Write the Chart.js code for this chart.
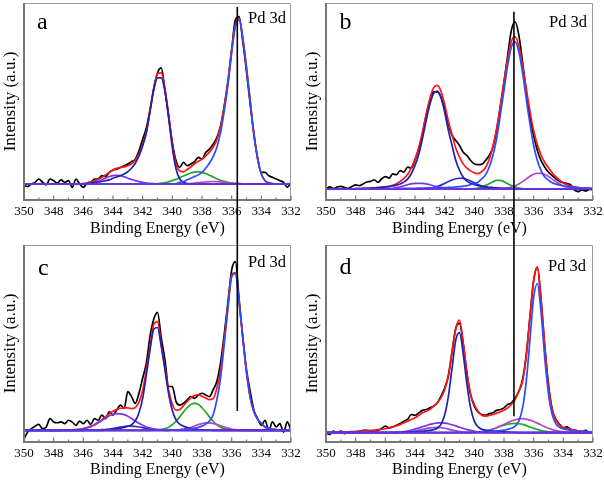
<!DOCTYPE html>
<html>
<head>
<meta charset="utf-8">
<script src="https://cdn.jsdelivr.net/npm/chart.js@4.4.1/dist/chart.umd.min.js"></script>
<style>
html,body{margin:0;padding:0;background:#ffffff;}
#grid{position:relative;width:604px;height:482px;overflow:hidden;}
.cell{position:absolute;width:302px;height:241px;}
canvas{display:block;}
</style>
</head>
<body>
<div id="grid">
  <div class="cell" style="left:0;top:0"><canvas id="pa" width="302" height="241"></canvas></div>
  <div class="cell" style="left:302px;top:0"><canvas id="pb" width="302" height="241"></canvas></div>
  <div class="cell" style="left:0;top:241px"><canvas id="pc" width="302" height="241"></canvas></div>
  <div class="cell" style="left:302px;top:241px"><canvas id="pd" width="302" height="241"></canvas></div>
</div>
<script>
// ---------- shared axis data ----------
const energy = [
350,349.75,349.5,349.25,349,348.75,348.5,348.25,
348,347.75,347.5,347.25,347,346.75,346.5,346.25,
346,345.75,345.5,345.25,345,344.75,344.5,344.25,
344,343.75,343.5,343.25,343,342.75,342.5,342.25,
342,341.75,341.5,341.25,341,340.75,340.5,340.25,
340,339.75,339.5,339.25,339,338.75,338.5,338.25,
338,337.75,337.5,337.25,337,336.75,336.5,336.25,
336,335.75,335.5,335.25,335,334.75,334.5,334.25,
334,333.75,333.5,333.25,333,332.75,332.5,332.25,
332];
const tickValues = [350,348,346,344,342,340,338,336,334,332];
const minorTickValues = [349,347,345,343,341,339,337,335,333];
const panelLetters = ['a','b','c','d'];
const peakLabel = 'Pd 3d';
const xTitle = 'Binding Energy (eV)';
const yTitle = 'Intensity (a.u.)';
const baselineLevel = 0;
const markerEnergyAC = 335.62;
const markerEnergyBD = 337.33;

// ---------- panel a ----------
const aRaw = [
-1,-1.5,0,1,3,1,-0.5,3,
2,0.5,2.5,1,2,-2,3,0,
-2,0.5,1,3,3,5,4.5,7,
8.5,9,10,11,12,13.5,15,20,
27,34,45,58,67,70,57,41,
25,14,10,13,11,12,13.5,16,
15,19,21,24,28,35,47,62,
81,99,101,86,68,48,30,16,
7,7,5,4,3,2,1,-2,
1];
const aFit = [
0,0,0,0,0,0,0,0,
0,0,0,0,0,0,0,0,
0.2,0.6,1.1,1.9,2.7,4,5.5,7,
8.5,9.4,10,10.3,11,12.2,14.5,18.4,
24,31.6,44.4,57.2,66.5,67,57.5,41.5,
24,12.1,7.8,7.3,8.7,10.4,12.2,13.7,
15,17,19.2,22.2,26.6,34.5,46.6,61.7,
81,96,100,88.2,70,50,30,15,
6,2,0.7,0.2,0,0,0,0,
0];
const aPd52 = [
0,0,0,0,0,0,0,0,
0,0,0,0,0,0,0,0,
0,0,0,0,0,0,0,0,
0,0,0,0,0,0,0,0,
0,0,0,0,0,0,0,0,
0,0.3,1,1.5,2.5,3.5,4.5,5.5,
7,9.5,12.5,16.5,22,31,44,60,
79,95,99,88,70,50,30,15,
6,2,0.7,0.2,0,0,0,0,
0];
const aPd32 = [
0,0,0,0,0,0,0,0,
0,0,0,0,0,0,0,0,
0.2,0.4,0.6,0.9,1.2,1.5,2,2.5,
3.5,4.2,5,6,7.5,9.5,12.5,17,
23,31,44,57,64,64,56,40,
22,9,3,1,0.3,0,0,0,
0,0,0,0,0,0,0,0,
0,0,0,0,0,0,0,0,
0,0,0,0,0,0,0,0,
0];
const aSat343 = [
0,0,0,0,0,0,0,0,
0,0,0,0,0,0,0,0,
0,0.2,0.5,1,1.5,2.5,3.5,4.5,
5,5.2,5,4.3,3.5,2.7,2,1.4,
1,0.6,0.4,0.2,0,0,0,0,
0,0,0,0,0,0,0,0,
0,0,0,0,0,0,0,0,
0,0,0,0,0,0,0,0,
0,0,0,0,0,0,0,0,
0];
const aSat338 = [
0,0,0,0,0,0,0,0,
0,0,0,0,0,0,0,0,
0,0,0,0,0,0,0,0,
0,0,0,0,0,0,0,0,
0,0,0,0,0.2,0.5,0.8,1.3,
2,2.8,3.8,4.8,5.8,6.6,7.2,7.4,
7,6.3,5.3,4.2,3.2,2.3,1.6,1,
0.6,0.4,0.2,0.1,0,0,0,0,
0,0,0,0,0,0,0,0,
0];
const aSat337 = [
0,0,0,0,0,0,0,0,
0,0,0,0,0,0,0,0,
0,0,0,0,0,0,0,0,
0,0,0,0,0,0,0,0,
0,0,0,0,0,0,0,0,
0,0,0,0,0.1,0.3,0.5,0.8,
1,1.2,1.4,1.5,1.4,1.2,1,0.7,
0.5,0.3,0.2,0.1,0,0,0,0,
0,0,0,0,0,0,0,0,
0];

// ---------- panel b ----------
const bRaw = [
0,1.2,0.3,1.2,1.6,0.8,0.4,1.5,
2.4,2,3,4.2,4.5,5.5,4,6,
7.4,6.5,9,8.5,11,10,13,12.5,
17.5,24,33,44,53,58,58,55,
48,39,32,29,26,22,20,17,
15,14.5,14.7,17,20,25,35,49,
64,80,95,100,92,76,58,43,
32,23,17,13,10,8,6,4.5,
3.8,3.2,2.4,-0.6,-1.6,-0.6,-1.2,-0.3,
-0.6];
const bFit = [
0,0,0,0,0,0,0,0,
0.2,0.25,0.3,0.4,0.5,0.65,0.8,1,
1.3,1.6,2.2,3.1,4.5,6.3,8.7,12.5,
17.7,24.5,33.9,44.5,54,60.4,61.9,58.4,
50.5,40.5,32.5,24.3,19,15,12.4,10.8,
9.6,9.2,10.4,12.7,17.6,25.4,35.9,49.7,
64,78,88.3,91.1,85.5,74.1,60.1,46.6,
34.8,26.4,20.3,15.8,12.7,9.6,7.2,5.3,
3.6,2.5,1.7,1.2,0.9,0.6,0.5,0.4,
0.3];
const bPd52 = [
0,0,0,0,0,0,0,0,
0,0,0,0,0,0,0,0,
0,0,0,0,0.2,0.3,0.3,0.4,
0.4,0.5,0.5,0.6,0.6,0.7,0.7,0.8,
0.8,0.9,1,1.2,1.4,1.7,2,2.6,
3.2,4.1,6,8.4,13,20,30,44,
59,74,85,88,82,69.5,54,39,
26,17,11,7.2,5.3,3.7,2.9,2.4,
1.8,1.5,1.2,1,0.8,0.6,0.5,0.4,
0.3];
const bPd32 = [
0,0,0,0,0,0,0,0,
0.2,0.25,0.3,0.4,0.5,0.65,0.8,1,
1.2,1.4,1.8,2.3,3,4.1,5.9,9.1,
14,20.6,30,40.7,50.5,57,58.5,54.5,
46,35,26,17,11.2,7,4.7,3.4,
2.5,2,1.6,1.3,1,0.85,0.7,0.55,
0.4,0.3,0.2,0.1,0,0,0,0,
0,0,0,0,0,0,0,0,
0,0,0,0,0,0,0,0,
0];
const bSat343 = [
0,0,0,0,0,0,0,0,
0,0,0,0,0,0,0,0,
0.1,0.2,0.4,0.8,1.3,1.9,2.5,3,
3.3,3.4,3.3,3,2.5,1.9,1.3,0.8,
0.4,0.2,0.1,0,0,0,0,0,
0,0,0,0,0,0,0,0,
0,0,0,0,0,0,0,0,
0,0,0,0,0,0,0,0,
0,0,0,0,0,0,0,0,
0];
const bSat341 = [
0,0,0,0,0,0,0,0,
0,0,0,0,0,0,0,0,
0,0,0,0,0,0,0,0,
0,0,0.1,0.2,0.4,0.8,1.4,2.3,
3.3,4.4,5.4,6.1,6.4,6.3,5.7,4.8,
3.7,2.6,1.7,1,0.5,0.25,0.1,0,
0,0,0,0,0,0,0,0,
0,0,0,0,0,0,0,0,
0,0,0,0,0,0,0,0,
0];
const bSat338 = [
0,0,0,0,0,0,0,0,
0,0,0,0,0,0,0,0,
0,0,0,0,0,0,0,0,
0,0,0,0,0,0,0,0,
0,0,0,0,0,0,0,0,
0.2,0.5,1.1,2,3.1,4.3,5.1,5.1,
4.3,3.1,2,1.1,0.5,0.2,0.1,0,
0,0,0,0,0,0,0,0,
0,0,0,0,0,0,0,0,
0];
const bSat336 = [
0,0,0,0,0,0,0,0,
0,0,0,0,0,0,0,0,
0,0,0,0,0,0,0,0,
0,0,0,0,0,0,0,0,
0,0,0,0,0,0,0,0,
0,0,0,0,0,0,0,0,
0.3,0.6,1.1,1.9,3,4.4,6,7.6,
8.8,9.4,9.3,8.6,7.4,5.9,4.3,2.9,
1.8,1,0.5,0.2,0.1,0,0,0,
0];

// ---------- panel c ----------
const cRaw = [
-5,-1,1,2.5,3.5,1,2,7,
5,4.5,5,4,6,5,3,5.5,
4,6,3.5,7,6,9,7,11,
9,12,15,13,23,20,16,22,
31,40,56,66,70,55,42,26,
26,17,15,16,18,20,19,21,
22,21,20,24,29,40,57,76,
95,100,78,55,36,23,12,7,
3,6,0,5,2,4,-1,5,
0];
const cFit = [
0,0,0,0,0,0,0,0,
0,0,0,0.1,0.2,0.3,0.4,0.6,
1.05,1.6,2.35,3.4,4.8,6.3,8.1,9.8,
11.3,12.4,13.1,13.3,13.3,12.9,13.5,16.7,
23.6,36.1,50.1,63,64.5,51,37.3,23.8,
15.5,12,12.4,14.6,17,19.4,20.7,21.1,
20.2,19.2,18.2,18.8,24.9,35.6,53.9,74.3,
92,93.5,76.2,55.1,34.5,19.5,11,6.5,
4.2,2,1.2,0.8,0.5,0.3,0.2,0.1,
0];
const cPd52 = [
0,0,0,0,0,0,0,0,
0,0,0,0,0,0,0,0,
0,0,0,0,0,0,0,0,
0,0,0,0,0,0,0,0,
0,0,0,0,0,0,0,0,
0.1,0.2,0.3,0.5,0.7,1,1.3,1.8,
2.5,3.7,5.6,9.3,18,31,51,72.5,
91,93,76,55,34.5,19.5,11,6.5,
4.2,2,1.2,0.8,0.5,0.3,0.2,0.1,
0];
const cPd32 = [
0,0,0,0,0,0,0,0,
0,0,0,0,0,0,0,0,
0.05,0.1,0.15,0.2,0.3,0.4,0.5,0.6,
0.8,1,1.3,1.7,2.4,3.4,5.6,10.5,
19,33,48,60,61,50,36,21.7,
11.8,6.2,3.7,2.5,1.7,1.2,0.8,0.5,
0.3,0.2,0.1,0,0,0,0,0,
0,0,0,0,0,0,0,0,
0,0,0,0,0,0,0,0,
0];
const cSat343 = [
0,0,0,0,0,0,0,0,
0,0,0,0.1,0.2,0.3,0.4,0.6,
1,1.5,2.2,3.2,4.5,5.9,7.3,8.6,
9.5,9.9,9.8,9.3,8.4,7,5.6,4.2,
3,2,1.4,0.9,0.6,0.4,0.3,0.2,
0.1,0,0,0,0,0,0,0,
0,0,0,0,0,0,0,0,
0,0,0,0,0,0,0,0,
0,0,0,0,0,0,0,0,
0];
const cSat342 = [
0,0,0,0,0,0,0,0,
0,0,0,0,0,0,0,0,
0,0,0,0,0,0,0.3,0.6,
1,1.5,2,2.3,2.5,2.5,2.3,2,
1.6,1.1,0.7,0.4,0.2,0.1,0,0,
0,0,0,0,0,0,0,0,
0,0,0,0,0,0,0,0,
0,0,0,0,0,0,0,0,
0,0,0,0,0,0,0,0,
0];
const cSat338 = [
0,0,0,0,0,0,0,0,
0,0,0,0,0,0,0,0,
0,0,0,0,0,0,0,0,
0,0,0,0,0,0,0,0,
0,0,0,0.1,0.2,0.5,1,1.9,
3.4,5.4,8,10.9,13.4,15.4,16,15.4,
13.4,10.9,8,5.4,3.4,1.9,1,0.5,
0.2,0.1,0,0,0,0,0,0,
0,0,0,0,0,0,0,0,
0];
const cSat337 = [
0,0,0,0,0,0,0,0,
0,0,0,0,0,0,0,0,
0,0,0,0,0,0,0,0,
0,0,0,0,0,0,0,0,
0,0,0,0,0,0,0,0,
0.1,0.2,0.4,0.7,1.2,1.8,2.6,3.4,
4,4.4,4.45,4.1,3.5,2.7,1.9,1.3,
0.8,0.4,0.2,0.1,0,0,0,0,
0,0,0,0,0,0,0,0,
0];

// ---------- panel d ----------
const dRaw = [
0,-1,1,0,1,-0.5,0.5,0,
0.5,1,1.5,1.5,1,1,1.5,2.5,
4,3,3.5,4.5,5.5,7,8,11,
10.5,12,13.5,14,15,16,18,22,
27,34,49,63,66,54,36,23,
16,12.5,11,10.5,11.5,12,13.5,14,
15,17,18,21,25,32,47,70,
92,100,80,52,29,14,8,5,
3,3.5,2,1.5,1,0.5,1.5,0,
0.5];
const dFit = [
0.2,0.2,0.3,0.3,0.4,0.5,0.6,0.7,
0.8,1,1.1,1.2,1.4,1.6,1.9,2.1,
2.4,2.9,3.4,4.2,5,6,7,8,
9,10.5,12,13,14,16,18,21,
26,35,49,63,68,54,36,23,
17,13,10.5,10,10.5,11,11.8,12.6,
13.5,15,17,20,25,31,46,70,
92,100,80,52,28,14,7.5,4.5,
3.2,2.5,2,1.6,1.2,1,0.8,0.6,
0.5];
const dPd52 = [
0,0,0,0,0,0,0,0,
0,0,0,0,0,0,0,0,
0,0,0,0,0,0,0,0,
0,0,0,0,0,0,0,0,
0,0,0,0,0,0,0,0.1,
0.2,0.3,0.4,0.5,0.7,0.8,1,1.3,
1.6,2,2.7,3.9,7,14.8,31,56,
81.7,90,72.5,45,23.3,10.9,5.4,3.2,
2.3,1.8,1.4,1.1,0.9,0.7,0.6,0.5,
0.4];
const dPd32 = [
0,0,0,0,0,0,0,0,
0,0,0,0,0,0,0,0,
0,0,0,0.1,0.2,0.3,0.4,0.5,
0.6,0.7,0.9,1.1,1.4,1.9,2.7,5,
10.7,22,39,56,60.4,47.6,29.3,15,
7,3.5,2.1,1.6,1.2,1,0.8,0.6,
0.5,0.4,0.3,0.2,0.1,0,0,0,
0,0,0,0,0,0,0,0,
0,0,0,0,0,0,0,0,
0];
const dSat342 = [
0,0,0,0,0,0,0,0,
0,0,0,0,0,0,0,0,
0,0.1,0.2,0.3,0.45,0.7,1.05,1.5,
2.2,2.8,3.6,4.3,5,5.5,5.9,6,
5.8,5.4,4.8,4.1,3.3,2.6,1.9,1.4,
0.9,0.6,0.4,0.25,0.15,0.1,0,0,
0,0,0,0,0,0,0,0,
0,0,0,0,0,0,0,0,
0,0,0,0,0,0,0,0,
0];
const dSat343 = [
0,0,0,0,0,0,0,0,
0,0,0,0,0,0,0,0,
0,0,0,0,0.1,0.2,0.4,0.65,
1,1.5,2,2.5,2.9,3.15,3.2,3,
2.7,2.2,1.6,1.1,0.7,0.4,0.2,0.1,
0,0,0,0,0,0,0,0,
0,0,0,0,0,0,0,0,
0,0,0,0,0,0,0,0,
0,0,0,0,0,0,0,0,
0];
const dSat337 = [
0,0,0,0,0,0,0,0,
0,0,0,0,0,0,0,0,
0,0,0,0,0,0,0,0,
0,0,0,0,0,0,0,0,
0,0,0,0,0,0,0.1,0.2,
0.3,0.5,0.7,1.05,1.6,2.2,3,3.8,
4.5,5.1,5.5,5.6,5.4,5,4.3,3.5,
2.6,2,1.3,0.95,0.6,0.4,0.25,0.15,
0.1,0,0,0,0,0,0,0,
0];
const dSat336 = [
0,0,0,0,0,0,0,0,
0,0,0,0,0,0,0,0,
0,0,0,0,0,0,0,0,
0,0,0,0,0,0,0,0,
0,0,0,0,0,0,0,0.1,
0.2,0.35,0.6,1,1.5,2.1,3,4,
5.1,6.1,7.1,7.8,8.4,8.5,8.2,7.6,
6.8,5.8,4.7,3.6,2.7,1.9,1.3,0.85,
0.55,0.3,0.2,0.1,0,0,0,0,
0];

// ---------- styling ----------
const FONT = '"Liberation Serif", "Times New Roman", serif';
const COL = {
  raw:'#000000', fit:'#ff1414', pd52:'#2b4cff', pd32:'#2020b4',
  violet:'#7a34e8', navy2:'#2a2ad0', green:'#1ea81e', magenta:'#b445cc',
  purple:'#9b45d8', base:'#6c30de'
};

function ds(label, values, color, order, width) {
  return {
    label,
    data: values.map((v, i) => ({x: energy[i], y: v})),
    borderColor: color, backgroundColor: color,
    borderWidth: width || 1.7, pointRadius: 0, pointHoverRadius: 0,
    cubicInterpolationMode: 'monotone', fill: false, order
  };
}
function baseDs() { return ds('Baseline', energy.map(() => baselineLevel), COL.base, 0, 1.7); }

const decor = {
  id: 'decor',
  afterDraw(chart, args, o) {
    const {ctx, chartArea: a, scales: {x, y}} = chart;
    ctx.save();
    // frame
    ctx.strokeStyle = '#9a9a9a'; ctx.lineWidth = 1;
    ctx.beginPath();
    ctx.moveTo(a.left, a.top + 0.5); ctx.lineTo(a.right - 0.5, a.top + 0.5); ctx.lineTo(a.right - 0.5, a.bottom);
    ctx.stroke();
    ctx.strokeStyle = '#767676'; ctx.lineWidth = 2;
    ctx.beginPath();
    ctx.moveTo(a.left, a.top); ctx.lineTo(a.left, a.bottom); ctx.lineTo(a.right, a.bottom);
    ctx.stroke();
    // inward ticks
    ctx.lineWidth = 1.2; ctx.strokeStyle = '#767676';
    tickValues.forEach(v => {
      const px = x.getPixelForValue(v);
      ctx.beginPath(); ctx.moveTo(px, a.bottom); ctx.lineTo(px, a.bottom - 4.5); ctx.stroke();
    });
    minorTickValues.forEach(v => {
      const px = x.getPixelForValue(v);
      ctx.beginPath(); ctx.moveTo(px, a.bottom); ctx.lineTo(px, a.bottom - 2.5); ctx.stroke();
    });
    // vertical reference line
    const mx = x.getPixelForValue(o.marker);
    const y1 = o.markerFrom !== null ? y.getPixelForValue(o.markerFrom) : 0;
    const y2 = o.markerTo !== null ? y.getPixelForValue(o.markerTo) : chart.height;
    ctx.strokeStyle = '#000'; ctx.lineWidth = 1.6;
    ctx.beginPath(); ctx.moveTo(mx, y1); ctx.lineTo(mx, y2); ctx.stroke();
    // texts
    ctx.fillStyle = '#000'; ctx.textBaseline = 'alphabetic';
    ctx.font = '24px ' + FONT; ctx.textAlign = 'left';
    ctx.fillText(o.letter, a.left + o.letterDx, a.top + o.letterDy);
    ctx.font = '16.5px ' + FONT; ctx.textAlign = 'right';
    ctx.fillText(peakLabel, a.right - o.labelDx, a.top + o.labelDy);
    ctx.restore();
  }
};

const panels = [
  {id:'pa', letter:panelLetters[0], top:3, xh:41, yMin:-9.66, yMax:109.2,
   marker:markerEnergyAC, markerFrom:106.8, markerTo:null, letterDx:13, letterDy:26.3, labelDx:5, labelDy:20,
   series:[baseDs(), ds('Pd 3d5/2', aPd52, COL.pd52, 1), ds('Pd 3d3/2', aPd32, COL.pd32, 2),
           ds('343.7 eV', aSat343, COL.violet, 3), ds('337.3 eV', aSat337, COL.magenta, 4),
           ds('338.4 eV', aSat338, COL.green, 5), ds('Envelope', aFit, COL.fit, 8), ds('Raw', aRaw, COL.raw, 9)]},
  {id:'pb', letter:panelLetters[1], top:3, xh:41, yMin:-6.6, yMax:111.2,
   marker:markerEnergyBD, markerFrom:106, markerTo:null, letterDx:13.5, letterDy:26.3, labelDx:6, labelDy:24,
   series:[baseDs(), ds('Pd 3d5/2', bPd52, COL.pd52, 1), ds('Pd 3d3/2', bPd32, COL.pd32, 2),
           ds('343.7 eV', bSat343, COL.violet, 3), ds('340.9 eV', bSat341, COL.navy2, 4),
           ds('335.6 eV', bSat336, COL.magenta, 5), ds('338.5 eV', bSat338, COL.green, 6),
           ds('Envelope', bFit, COL.fit, 8), ds('Raw', bRaw, COL.raw, 9)]},
  {id:'pc', letter:panelLetters[2], top:4, xh:40, yMin:-6.9, yMax:109.9,
   marker:markerEnergyAC, markerFrom:null, markerTo:11.5, letterDx:14, letterDy:30.3, labelDx:5, labelDy:22,
   series:[baseDs(), ds('Pd 3d5/2', cPd52, COL.pd52, 1), ds('Pd 3d3/2', cPd32, COL.pd32, 2),
           ds('343.7 eV', cSat343, COL.violet, 3), ds('342.8 eV', cSat342, COL.navy2, 4),
           ds('337.6 eV', cSat337, COL.magenta, 5), ds('338.5 eV', cSat338, COL.green, 6),
           ds('Envelope', cFit, COL.fit, 8), ds('Raw', cRaw, COL.raw, 9)]},
  {id:'pd', letter:panelLetters[3], top:4, xh:40, yMin:-5.6, yMax:113.3,
   marker:markerEnergyBD, markerFrom:null, markerTo:10, letterDx:13.5, letterDy:29.3, labelDx:7, labelDy:26,
   series:[baseDs(), ds('Pd 3d5/2', dPd52, COL.pd52, 1), ds('Pd 3d3/2', dPd32, COL.pd32, 2),
           ds('342.3 eV', dSat342, COL.violet, 3), ds('342.6 eV', dSat343, COL.purple, 4),
           ds('336.8 eV', dSat336, COL.magenta, 5), ds('337.3 eV', dSat337, COL.green, 6),
           ds('Envelope', dFit, COL.fit, 8), ds('Raw', dRaw, COL.raw, 9)]}
];

panels.forEach(p => {
  new Chart(document.getElementById(p.id), {
    type: 'line',
    data: {datasets: p.series},
    options: {
      responsive: false, animation: false, parsing: true,
      layout: {padding: {left: 0, right: 11, top: p.top, bottom: 0}},
      plugins: {
        legend: {display: false}, tooltip: {enabled: false},
        decor: {marker: p.marker, markerFrom: p.markerFrom, markerTo: p.markerTo, letter: p.letter,
                letterDx: p.letterDx, letterDy: p.letterDy, labelDx: p.labelDx, labelDy: p.labelDy}
      },
      scales: {
        x: {
          type: 'linear', reverse: true, min: 332, max: 350,
          afterBuildTicks: s => { s.ticks = tickValues.slice().sort((m, n) => m - n).map(v => ({value: v})); },
          afterFit: s => { s.height = p.xh; },
          grid: {display: false, drawTicks: false}, border: {display: false},
          ticks: {font: {family: FONT, size: 13}, color: '#000', padding: 3.5, maxRotation: 0, autoSkip: false},
          title: {display: true, text: xTitle, color: '#000', font: {family: FONT, size: 16}, padding: {top: 0, bottom: 3}}
        },
        y: {
          type: 'linear', min: p.yMin, max: p.yMax,
          afterFit: s => { s.width = 24; },
          grid: {display: false, drawTicks: false}, border: {display: false},
          ticks: {display: false},
          title: {display: true, text: yTitle, color: '#000', font: {family: FONT, size: 17}, padding: {top: 0, bottom: 0}}
        }
      }
    },
    plugins: [decor]
  });
});
</script>
</body>
</html>
